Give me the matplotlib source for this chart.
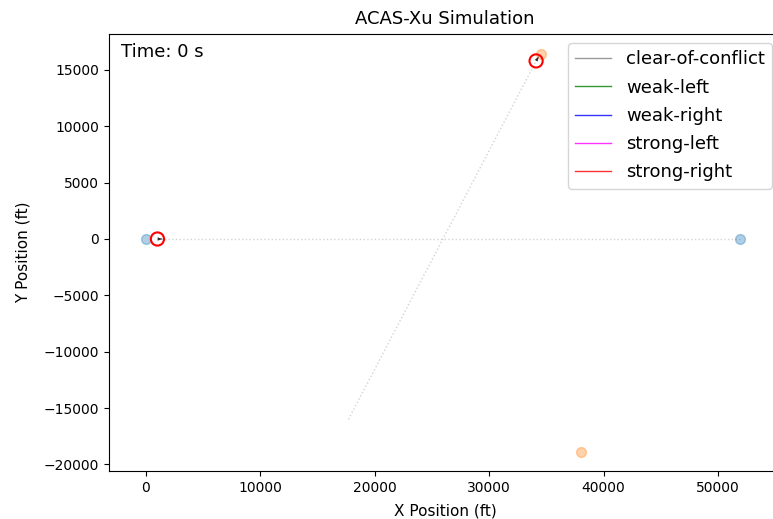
import matplotlib
matplotlib.use("Agg")
import matplotlib.pyplot as plt
import numpy as np
from matplotlib.lines import Line2D

# Aircraft positions (ft)
own_start = (0, 0)
own_end = (51900, 0)
own_now = (1000, 0)
own_heading = (1, 0)

intr_start = (34500, 16400)
intr_end = (38000, -18900)
intr_now = (34100, 15800)
intr_heading = (0.5, 0.87)
intr_path_end = (17700, -16000)

advisories = ["clear-of-conflict", "weak-left", "weak-right", "strong-left", "strong-right"]
adv_colors = ["gray", "green", "blue", "magenta", "red"]

fig = plt.figure(figsize=(7.73, 5.19), dpi=100)
left_px, right_px, top_px, bot_px = 109, 781, 34, 471
ax = fig.add_axes([left_px/773, (519-bot_px)/519, (right_px-left_px)/773, (bot_px-top_px)/519])

# dotted trajectories
ax.plot([own_now[0], own_end[0]], [own_now[1], own_end[1]], ls=':', color='lightgray', lw=1)
ax.plot([intr_path_end[0], intr_now[0]], [intr_path_end[1], intr_now[1]], ls=':', color='lightgray', lw=1)

# start/end points
ax.scatter([own_start[0], own_end[0]], [own_start[1], own_end[1]], color='C0', alpha=0.35, s=50, zorder=3)
ax.scatter([intr_start[0], intr_end[0]], [intr_start[1], intr_end[1]], color='C1', alpha=0.35, s=50, zorder=3)

# current positions
ax.scatter([own_now[0], intr_now[0]], [own_now[1], intr_now[1]], facecolors='none', edgecolors='red', s=90, lw=1.5, zorder=4)
ax.quiver([own_now[0], intr_now[0]], [own_now[1], intr_now[1]],
          [own_heading[0], intr_heading[0]], [own_heading[1], intr_heading[1]],
          color='#333333', scale=120, width=0.004, zorder=5)

xpx = 0.01144
ax.set_xlim(-(146 - left_px) / xpx, (right_px - 146) / xpx)
ax.set_ylim(-(bot_px - 239) / 0.01127, (239 - top_px) / 0.01127)
ax.set_xlabel("X Position (ft)", labelpad=6.5, fontsize=11)
ax.set_ylabel("Y Position (ft)", labelpad=9.5, fontsize=11)
ax.set_title("ACAS-Xu Simulation", pad=7, fontsize=13)
ax.text(0.0185, 0.98, "Time: 0 s", transform=ax.transAxes, fontsize=13, va='top', ha='left')

handles = [Line2D([0], [0], color=c, lw=1, alpha=0.8) for c in adv_colors]
ax.legend(handles, advisories, loc='upper right', fontsize=13, labelspacing=0.57)

fig.savefig("out.png", dpi=100)
